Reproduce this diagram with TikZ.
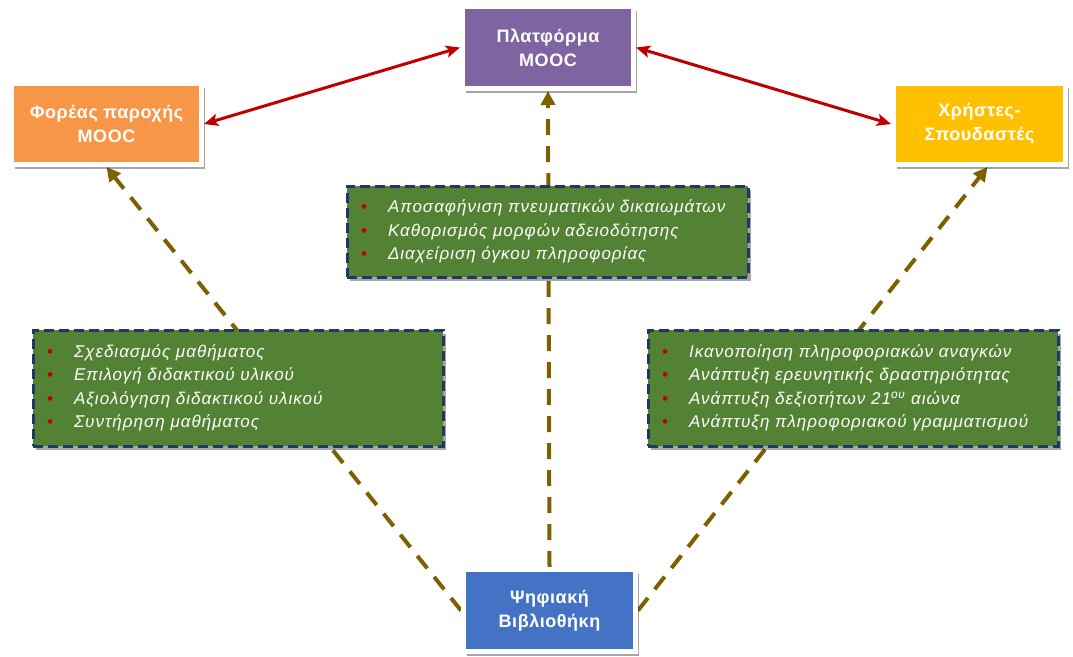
\documentclass[tikz,border=0pt]{standalone}
\usepackage{fontspec}
\setmainfont{Liberation Sans}
\newfontfamily\listfont[LetterSpace=6]{Liberation Sans}
\newfontfamily\titlefont[LetterSpace=3]{Liberation Sans}
\usetikzlibrary{arrows.meta,shadows,calc}
\definecolor{cpurple}{HTML}{8064A2}
\definecolor{corange}{HTML}{F79646}
\definecolor{cyellow}{HTML}{FFC000}
\definecolor{cblue}{HTML}{4472C4}
\definecolor{cgreen}{HTML}{548235}
\definecolor{cnavy}{HTML}{203864}
\definecolor{cred}{HTML}{C00000}
\definecolor{cbrown}{HTML}{7F6000}
\pgfdeclarelayer{background}
\pgfsetlayers{background,main}
\newcommand{\itm}[1]{\makebox[27pt][l]{\textcolor{cred}{\textbullet}}#1}
\tikzset{
  mainbox/.style={draw=white, line width=5pt, text=white, align=center,
    font=\titlefont\bfseries\fontsize{18}{24}\selectfont,
    drop shadow={shadow xshift=3pt, shadow yshift=-4pt, opacity=0.35, fill=black}},
  listbox/.style={fill=cgreen, draw=cnavy, line width=3pt, dash pattern=on 10pt off 5pt,
    text=white, align=left, inner xsep=14pt,
    font=\listfont\itshape\fontsize{17}{23.5}\selectfont,
    drop shadow={shadow xshift=3pt, shadow yshift=-4pt, opacity=0.35, fill=black}},
  twoway/.style={draw=cred, line width=3pt, {Stealth[length=14pt,width=12pt,inset=3pt]}-{Stealth[length=14pt,width=12pt,inset=3pt]}},
  flow/.style={draw=cbrown, line width=4pt, dash pattern=on 16pt off 11pt, -{Triangle[length=14pt,width=14pt]}},
}
\begin{document}
\begin{tikzpicture}[x=1pt,y=-1pt]
\useasboundingbox (0,0) rectangle (1073,656);
% main boxes
\node[mainbox, fill=cpurple, minimum width=171pt, minimum height=82pt] (top) at (548,47.5) {Πλατφόρμα\\ΜΟΟC};
\node[mainbox, fill=corange, minimum width=190pt, minimum height=81pt] (left) at (106.5,124) {Φορέας παροχής\\ΜΟΟC};
\node[mainbox, fill=cyellow, minimum width=172pt, minimum height=81pt] (right) at (979.5,124) {Χρήστες-\\Σπουδαστές};
\node[mainbox, fill=cblue, minimum width=172pt, minimum height=82pt] (bot) at (549.5,610.5) {Ψηφιακή\\Βιβλιοθήκη};
% list boxes
\node[listbox, minimum width=401pt, minimum height=91pt, text width=373pt] (lc) at (547.5,231.5)
  {\itm{Αποσαφήνιση πνευματικών δικαιωμάτων}\\\itm{Καθορισμός μορφών αδειοδότησης}\\\itm{Διαχείριση όγκου πληροφορίας}};
\node[listbox, minimum width=410pt, minimum height=116pt, text width=382pt] (ll) at (238,388)
  {\itm{Σχεδιασμός μαθήματος}\\\itm{Επιλογή διδακτικού υλικού}\\\itm{Αξιολόγηση διδακτικού υλικού}\\\itm{Συντήρηση μαθήματος}};
\node[listbox, minimum width=410pt, minimum height=116pt, text width=382pt] (lr) at (853,388)
  {\itm{Ικανοποίηση πληροφοριακών αναγκών}\\\itm{Ανάπτυξη ερευνητικής δραστηριότητας}\\\itm{Ανάπτυξη δεξιοτήτων 21\textsuperscript{ου} αιώνα}\\\itm{Ανάπτυξη πληροφοριακού γραμματισμού}};
% connectors
\begin{pgfonlayer}{background}
\draw[flow] (bot.west) -- (left.south);
\draw[flow] (bot.north) -- (top.south);
\draw[flow] (bot.east) -- ($(right.south)+(8,0)$);
\end{pgfonlayer}
\draw[twoway] (left.east) -- (top.west);
\draw[twoway] (top.east) -- (right.west);
\end{tikzpicture}
\end{document}
